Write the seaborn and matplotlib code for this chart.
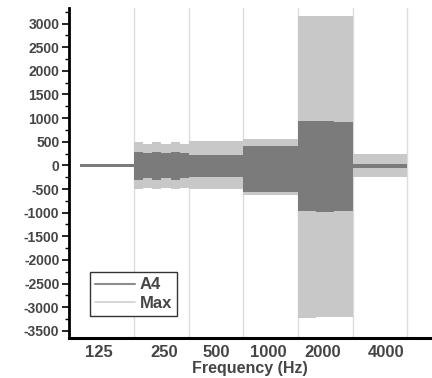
import pandas as pd
import seaborn as sns
import matplotlib.pyplot as plt
from matplotlib.lines import Line2D
from matplotlib.ticker import MultipleLocator

# octave bands, each drawn as 6 narrow sub-bands
octaves = ['125', '250', '500', '1000', '2000', '4000']

a4_hi = [[30, 30, 30, 30, 30, 30],
         [290, 255, 290, 255, 290, 260],
         [225, 225, 225, 225, 225, 225],
         [410, 410, 410, 410, 410, 410],
         [935, 935, 930, 930, 925, 925],
         [35, 35, 35, 35, 35, 35]]
a4_lo = [[-25, -25, -25, -25, -25, -25],
         [-300, -270, -300, -270, -300, -275],
         [-255, -255, -255, -255, -255, -255],
         [-560, -560, -565, -565, -560, -560],
         [-975, -975, -980, -980, -975, -975],
         [-60, -60, -60, -60, -60, -60]]
max_hi = [[30, 30, 30, 30, 30, 30],
          [490, 455, 490, 455, 490, 460],
          [505, 505, 505, 505, 505, 505],
          [555, 555, 555, 555, 555, 555],
          [3150, 3150, 3160, 3160, 3150, 3150],
          [235, 235, 235, 235, 235, 235]]
max_lo = [[-25, -25, -25, -25, -25, -25],
          [-510, -480, -510, -480, -510, -485],
          [-510, -510, -510, -510, -510, -510],
          [-625, -625, -625, -625, -625, -625],
          [-3230, -3230, -3210, -3210, -3200, -3200],
          [-240, -240, -240, -240, -240, -240]]

rows = []
for k, octv in enumerate(octaves):
    for i in range(6):
        rows.append({'sub': f'{octv}_{i}',
                     'a4_hi': a4_hi[k][i], 'a4_lo': a4_lo[k][i],
                     'max_hi': max_hi[k][i], 'max_lo': max_lo[k][i]})
df = pd.DataFrame(rows)
order = list(df['sub'])

sns.set_style('white')
plt.rcParams['font.family'] = ['Liberation Sans', 'DejaVu Sans']
plt.rcParams['font.weight'] = 'bold'
plt.rcParams['axes.unicode_minus'] = False

dark = '#7b7b7b'
light = '#c8c8c8'
txt = '#454545'

fig = plt.figure(figsize=(4.32, 3.78), dpi=100)
ax = fig.add_axes([0.160, 0.106, 0.835, 0.873])

for col, c in [('max_hi', light), ('max_lo', light), ('a4_hi', dark), ('a4_lo', dark)]:
    sns.barplot(data=df, x='sub', y=col, order=order, color=c, width=1,
                saturation=1, errorbar=None, linewidth=0, ax=ax, zorder=2)

# octave boundaries
for b in [5.5, 11.5, 17.5, 23.5, 29.5, 35.5]:
    ax.axvline(b, color='#dcdcdc', lw=1, zorder=1)

ax.set_xlim(-1.65, 38.0)
ax.set_ylim(-3650, 3330)
ax.set_xticks([1.6, 8.8, 14.5, 20.3, 26.2, 33.2])
ax.set_xticklabels(octaves, fontsize=12, fontweight='bold', color=txt)
ax.set_xlabel('Frequency (Hz)', fontsize=11.5, fontweight='bold', color=txt, labelpad=1)
ax.set_ylabel('')

ax.yaxis.set_major_locator(MultipleLocator(500))
ax.yaxis.set_minor_locator(MultipleLocator(250))
ax.tick_params(axis='y', which='major', direction='out', length=5, width=1.2,
               color='black', labelsize=10, labelcolor=txt, left=True, pad=2)
ax.tick_params(axis='y', which='minor', direction='out', length=3, width=1.0,
               color='black', left=True)
ax.tick_params(axis='x', length=0, pad=5)
for lab in ax.get_yticklabels():
    lab.set_fontweight('bold')

for s in ['top', 'right']:
    ax.spines[s].set_visible(False)
ax.spines['left'].set_linewidth(2)
ax.spines['bottom'].set_linewidth(2.2)
ax.spines['left'].set_color('black')
ax.spines['bottom'].set_color('black')

handles = [Line2D([], [], color='#8c8c8c', lw=1.5),
           Line2D([], [], color='#d0d0d0', lw=1.2)]
leg = ax.legend(handles, ['A4', 'Max'], loc='lower left',
                bbox_to_anchor=(0.058, 0.067), borderaxespad=0,
                prop={'size': 12, 'weight': 'bold'}, handlelength=2.4,
                handletextpad=0.3, borderpad=0.3, labelspacing=0.2,
                fancybox=False, framealpha=1, edgecolor='#333333')
leg.get_frame().set_linewidth(1.0)
for t in leg.get_texts():
    t.set_color(txt)

fig.savefig('out.png', dpi=100)
